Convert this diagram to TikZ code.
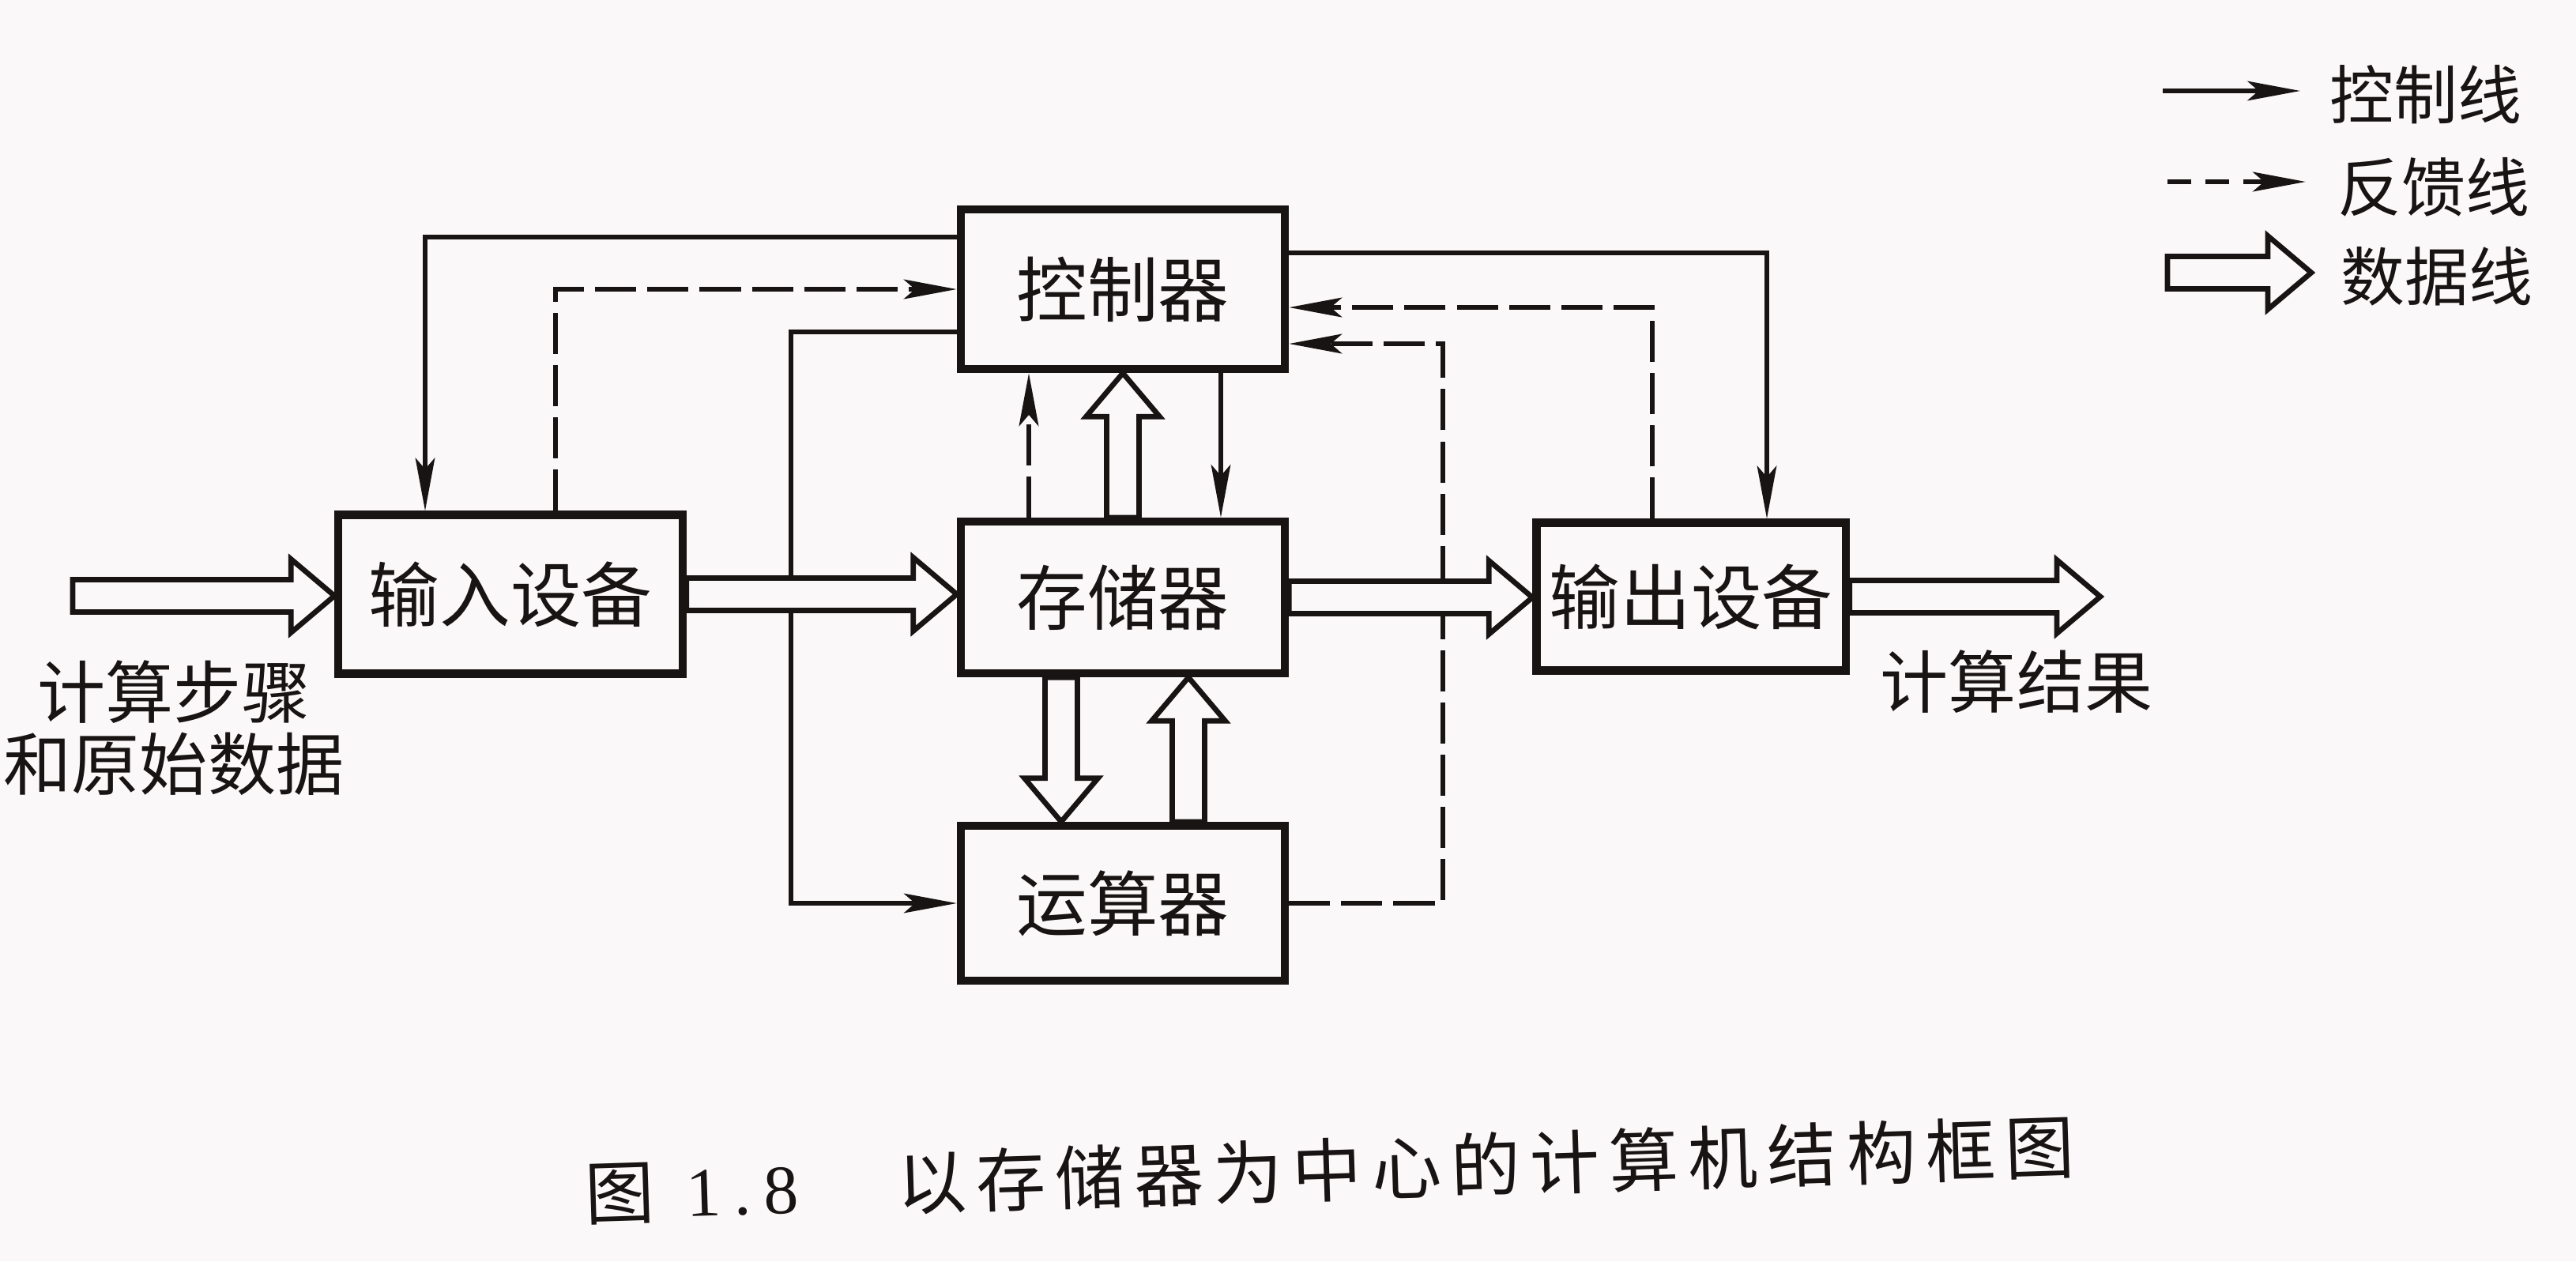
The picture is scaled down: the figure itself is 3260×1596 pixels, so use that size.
\documentclass[tikz,border=0pt]{standalone}
\usepackage{fontspec}
\newfontfamily\cjk{Noto Sans CJK SC}
\newfontfamily\cjkcap[LetterSpace=14]{Noto Sans CJK SC}
\newfontfamily\digfont[LetterSpace=18]{Liberation Serif}
\usetikzlibrary{arrows.meta,calc}
\definecolor{paper}{RGB}{251,248,249}
\definecolor{ink}{RGB}{24,20,20}
\newcommand\dwShaft{0.205cm}
\newcommand\dwHead{0.465cm}
\newcommand\dwLen{0.55cm}
% horizontal hollow data arrow (rightwards), y taken from the start point
\newcommand\dataH[2]{\draw[dataarr] let \p1=(#1), \p2=(#2) in
  (\x1,{\y1+\dwShaft}) -- ({\x2-\dwLen},{\y1+\dwShaft}) -- ({\x2-\dwLen},{\y1+\dwHead}) -- (\x2,\y1)
  -- ({\x2-\dwLen},{\y1-\dwHead}) -- ({\x2-\dwLen},{\y1-\dwShaft}) -- (\x1,{\y1-\dwShaft}) -- cycle;}
% vertical hollow data arrow pointing up
\newcommand\dataUp[2]{\draw[dataarr] let \p1=(#1), \p2=(#2) in
  ({\x1-\dwShaft},\y1) -- ({\x1-\dwShaft},{\y2-\dwLen}) -- ({\x1-\dwHead},{\y2-\dwLen}) -- (\x1,\y2)
  -- ({\x1+\dwHead},{\y2-\dwLen}) -- ({\x1+\dwShaft},{\y2-\dwLen}) -- ({\x1+\dwShaft},\y1) -- cycle;}
% vertical hollow data arrow pointing down
\newcommand\dataDown[2]{\draw[dataarr] let \p1=(#1), \p2=(#2) in
  ({\x1-\dwShaft},\y1) -- ({\x1-\dwShaft},{\y2+\dwLen}) -- ({\x1-\dwHead},{\y2+\dwLen}) -- (\x1,\y2)
  -- ({\x1+\dwHead},{\y2+\dwLen}) -- ({\x1+\dwShaft},{\y2+\dwLen}) -- ({\x1+\dwShaft},\y1) -- cycle;}
\begin{document}
\begin{tikzpicture}[x=0.01cm,y=-0.01cm,
  box/.style={draw=ink, line width=2.9pt, inner sep=0pt, text=ink,
              font=\cjk\fontsize{25.5}{30}\selectfont},
  ctl/.style={draw=ink, line width=1.5pt, -{Stealth[length=19pt,width=7pt,inset=4pt]}},
  fb/.style={ctl, line width=1.9pt, dash pattern=on 14.8pt off 4pt},
  fblegend/.style={ctl, line width=1.9pt, dash pattern=on 8.5pt off 5.2pt},
  dataarr/.style={draw=ink, line width=1.9pt, fill=paper, line join=miter},
  lbl/.style={inner sep=0pt, text=ink, font=\cjk\fontsize{24.5}{25.9}\selectfont},
  lgd/.style={inner sep=0pt, text=ink, font=\cjk\fontsize{23}{26}\selectfont}
]
\useasboundingbox (0,0) rectangle (3260,1596);
\fill[paper] (0,0) rectangle (3260,1596);

% boxes
\node[box, minimum width=4.10cm, minimum height=2.02cm] (ctrl) at (1421,366) {控制器};
\node[box, minimum width=4.10cm, minimum height=1.92cm] (mem)  at (1421,756) {存储器};
\node[box, minimum width=4.10cm, minimum height=1.96cm] (alu)  at (1421,1143) {运算器};
\node[box, minimum width=4.35cm, minimum height=2.01cm] (in)   at (646,752) {输入设备};
\node[box, minimum width=3.91cm, minimum height=1.87cm] (out)  at (2140,755) {输出设备};

% texts
\node[lbl, align=center] (srcT) at (220,921) {计算步骤\\和原始数据};
\node[lbl] (resT) at (2552,863) {计算结果};

% helper coordinates
\coordinate (kIn)  at (538,300);
\coordinate (kAlu) at (1001,420);
\coordinate (xC)   at (1545,0);
\coordinate (kOut) at (2236,320);
\coordinate (fIn)  at (703,366);
\coordinate (xF)   at (1302,0);
\coordinate (fOut) at (2091,389);
\coordinate (fAlu) at (1826,435);
\coordinate (xD)   at (1343,0);
\coordinate (xU)   at (1504,0);
\coordinate (srcIn) at (92,754);
\coordinate (res)  at (2658,755);

% control lines
\draw[ctl] (ctrl.west |- kIn) -| (in.north -| kIn);
\draw[ctl] (ctrl.west |- kAlu) -| (kAlu |- alu.west) -- (alu.west);
\draw[ctl] (ctrl.south -| xC) -- (mem.north -| xC);
\draw[ctl] (ctrl.east |- kOut) -| (out.north -| kOut);

% feedback lines
\draw[fb] (in.north -| fIn) |- (ctrl.west |- fIn);
\draw[fb] (mem.north -| xF) -- (ctrl.south -| xF);
\draw[fb] (out.north -| fOut) |- (ctrl.east |- fOut);
\draw[fb] (alu.east) -| (fAlu) -- (ctrl.east |- fAlu);

% data lines
\dataH{srcIn}{in.west}
\dataH{in.east}{mem.west}
\dataH{mem.east}{out.west}
\dataH{out.east}{res}
\dataUp{mem.north}{ctrl.south}
\dataDown{mem.south -| xD}{alu.north -| xD}
\dataUp{alu.north -| xU}{mem.south -| xU}

% legend
\coordinate (lgC1) at (2737,115);
\coordinate (lgC2) at (2911,115);
\coordinate (lgF1) at (2743,230);
\coordinate (lgF2) at (2918,230);
\coordinate (lgD1) at (2743,345);
\coordinate (lgD2) at (2925,345);
\draw[ctl] (lgC1) -- (lgC2);
\draw[fblegend] (lgF1) -- (lgF2);
\dataH{lgD1}{lgD2}
\node[lgd] (tC) at (3070,120) {控制线};
\node[lgd] (tF) at (3080,237) {反馈线};
\node[lgd] (tD) at (3084,350) {数据线};

% caption
\node[inner sep=0pt, anchor=west, rotate=1.8, text=ink] (cap) at (740,1510)
  {\cjk\fontsize{25}{30}\selectfont 图\hspace{0.4cm}{\digfont 1.8}\hspace{1.25cm}{\cjkcap 以存储器为中心的计算机结构框图}};
\end{tikzpicture}
\end{document}
